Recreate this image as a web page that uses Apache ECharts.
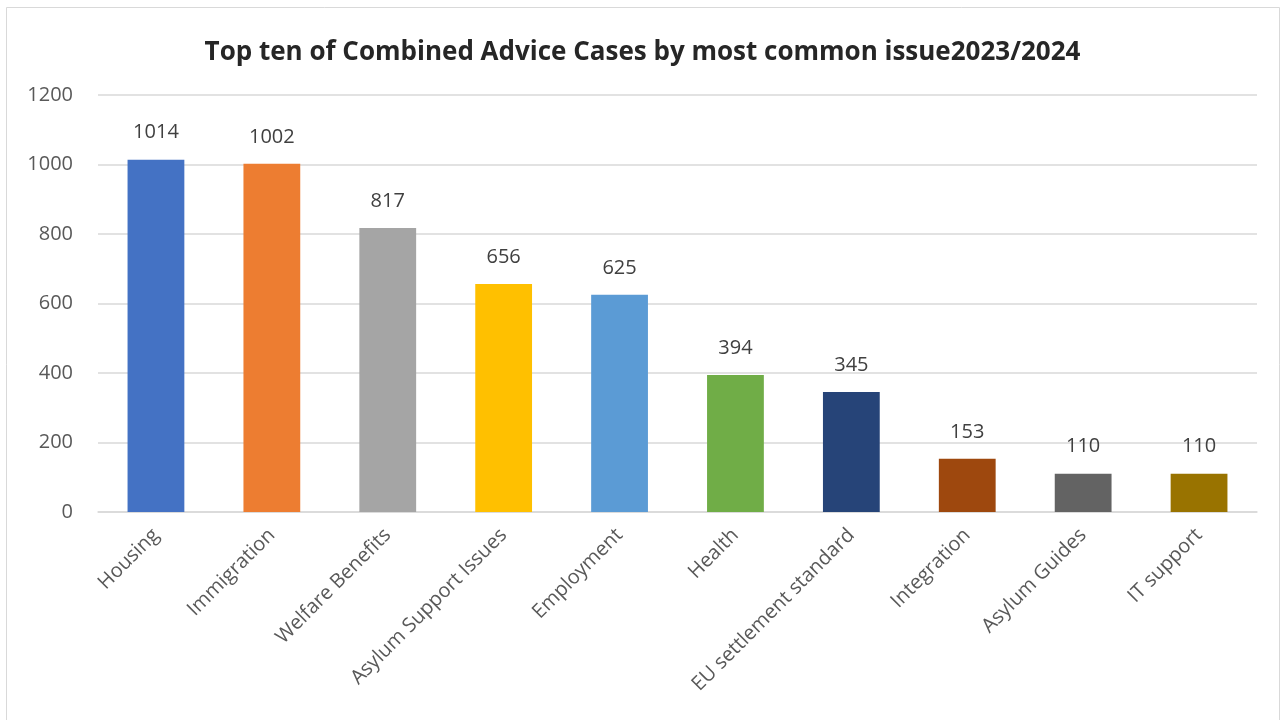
<!DOCTYPE html>
<html>
<head>
<meta charset="utf-8">
<script src="https://cdn.jsdelivr.net/npm/echarts@6/dist/echarts.min.js"></script>
<style>
html, body { margin: 0; padding: 0; background: #fff; }
#chart { width: 1285px; height: 720px; }
</style>
</head>
<body>
<div id="chart"></div>
<script>
const categories = ['Housing', 'Immigration', 'Welfare Benefits', 'Asylum Support Issues', 'Employment', 'Health', 'EU settlement standard', 'Integration', 'Asylum Guides', 'IT support'];
const cases = [1014, 1002, 817, 656, 625, 394, 345, 153, 110, 110];
const barColors = ['#4472C4', '#ED7D31', '#A5A5A5', '#FFC000', '#5B9BD5', '#70AD47', '#264478', '#9E480E', '#636363', '#997300'];
const yTicks = [0, 200, 400, 600, 800, 1000, 1200];

const font = '"Open Sans", "Noto Sans", sans-serif';
const chart = echarts.init(document.getElementById('chart'));
chart.setOption({
  backgroundColor: '#ffffff',
  animation: false,
  textStyle: { fontFamily: font },
  graphic: [{
    type: 'rect',
    shape: { x: 6.5, y: 7.5, width: 1273, height: 720 },
    style: { fill: 'none', stroke: '#d9d9d9', lineWidth: 1 },
    silent: true
  }],
  title: {
    text: 'Top ten of Combined Advice Cases by most common issue2023/2024',
    left: 'center',
    top: 35,
    textStyle: { fontFamily: font, fontSize: 26, fontWeight: 'bold', color: '#262626' }
  },
  grid: { left: 98, right: 28, top: 95, bottom: 208 },
  xAxis: {
    type: 'category',
    data: categories,
    axisLine: { lineStyle: { color: '#d9d9d9', width: 1.5 } },
    axisTick: { show: false },
    axisLabel: { rotate: 45, interval: 0, margin: 20, fontSize: 20, color: '#595959', fontFamily: font }
  },
  yAxis: {
    type: 'value',
    min: yTicks[0],
    max: yTicks[yTicks.length - 1],
    interval: 200,
    axisLine: { show: false },
    axisTick: { show: false },
    splitLine: { lineStyle: { color: '#d9d9d9', width: 1.5 } },
    axisLabel: { fontSize: 20, color: '#595959', margin: 25, fontFamily: font, formatter: v => String(v) }
  },
  series: [{
    type: 'bar',
    barWidth: '49%',
    data: cases.map((v, i) => ({ value: v, itemStyle: { color: barColors[i] } })),
    label: { show: true, position: 'top', distance: 17, fontSize: 20, color: '#404040', fontFamily: font }
  }]
});
</script>
</body>
</html>
